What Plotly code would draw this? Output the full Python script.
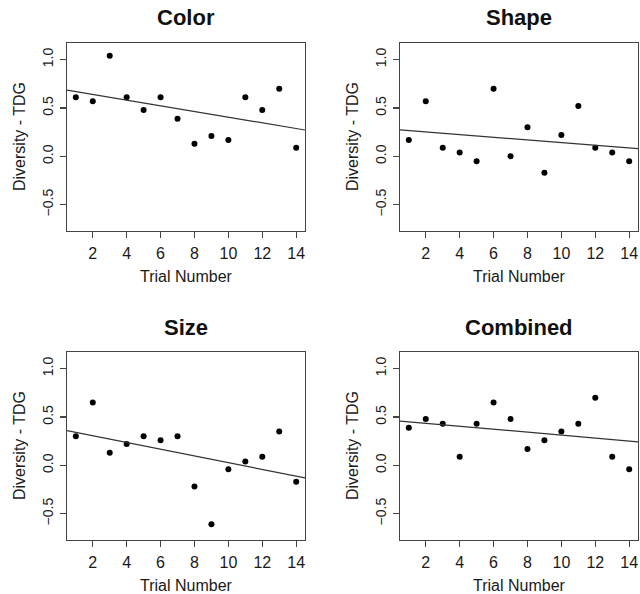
import numpy as np
import plotly.graph_objects as go

trial = list(range(1, 15))
titles = ["Color", "Shape", "Size", "Combined"]
color_vals = [0.61, 0.57, 1.04, 0.61, 0.48, 0.61, 0.39, 0.13, 0.21, 0.17, 0.61, 0.48, 0.70, 0.09]
shape_vals = [0.17, 0.57, 0.09, 0.04, -0.05, 0.70, 0.00, 0.30, -0.17, 0.22, 0.52, 0.09, 0.04, -0.05]
size_vals = [0.30, 0.65, 0.13, 0.22, 0.30, 0.26, 0.30, -0.22, -0.61, -0.04, 0.04, 0.09, 0.35, -0.17]
combined_vals = [0.39, 0.48, 0.43, 0.09, 0.43, 0.65, 0.48, 0.17, 0.26, 0.35, 0.43, 0.70, 0.09, -0.04]
series = [color_vals, shape_vals, size_vals, combined_vals]

x_ticks = [2, 4, 6, 8, 10, 12, 14]
y_ticks = [-0.5, 0.0, 0.5, 1.0]
x_range = [0.48, 14.52]
y_range = [-0.772, 1.172]

W, H = 640, 594
boxes = [  # left, right, top, bottom in px
    (67, 305, 43, 231),
    (400, 638, 43, 231),
    (67, 305, 352, 540),
    (400, 638, 352, 540),
]
font_family = "Liberation Sans, Arial, sans-serif"

fig = go.Figure()
layout = dict(
    width=W, height=H, margin=dict(l=0, r=0, t=0, b=0),
    paper_bgcolor="white", plot_bgcolor="white", showlegend=False,
    font=dict(family=font_family, color="#222"),
)
annotations = []
for i, (vals, title, box) in enumerate(zip(series, titles, boxes)):
    n = "" if i == 0 else str(i + 1)
    xa, ya = "x" + n, "y" + n
    l, r, t, b = box
    layout["xaxis" + n] = dict(
        domain=[l / W, r / W], range=x_range, tickvals=x_ticks,
        showline=True, mirror=True, linecolor="#444", linewidth=1.3,
        ticks="outside", ticklen=6, tickcolor="#444", tickwidth=1.1,
        showgrid=False, zeroline=False, anchor=ya,
        tickfont=dict(size=16, color="#1a1a1a"), ticklabelstandoff=1,
    )
    layout["yaxis" + n] = dict(
        domain=[1 - b / H, 1 - t / H], range=y_range, tickvals=y_ticks,
        tickformat=".1f", tickangle=-90,
        showline=True, mirror=True, linecolor="#444", linewidth=1.3,
        ticks="outside", ticklen=6, tickcolor="#444", tickwidth=1.1,
        showgrid=False, zeroline=False, anchor=xa,
        tickfont=dict(size=14, color="#1a1a1a"), ticklabelstandoff=1,
    )
    fig.add_trace(go.Scatter(
        x=trial, y=vals, mode="markers", xaxis=xa, yaxis=ya,
        marker=dict(color="black", size=6),
    ))
    slope, intercept = np.polyfit(trial, vals, 1)
    lx = np.array(x_range)
    fig.add_trace(go.Scatter(
        x=lx, y=slope * lx + intercept, mode="lines", xaxis=xa, yaxis=ya,
        line=dict(color="#333", width=1.2),
    ))
    cx = (l + r) / 2 / W
    annotations.append(dict(
        text="<b>" + title + "</b>", x=cx, y=1 - (t - 25) / H, xref="paper", yref="paper",
        showarrow=False, xanchor="center", yanchor="middle",
        font=dict(size=22, color="#111", family=font_family),
    ))
    annotations.append(dict(
        text="Trial Number", x=cx, y=1 - (b + 45) / H, xref="paper", yref="paper",
        showarrow=False, xanchor="center", yanchor="middle",
        font=dict(size=16, color="#1a1a1a", family=font_family),
    ))
    annotations.append(dict(
        text="Diversity - TDG", x=(l - 48) / W, y=1 - (t + b) / 2 / H, xref="paper", yref="paper",
        showarrow=False, xanchor="center", yanchor="middle", textangle=-90,
        font=dict(size=16, color="#1a1a1a", family=font_family),
    ))
layout["annotations"] = annotations
fig.update_layout(**layout)
fig.write_html("out.html", config={"displayModeBar": False, "staticPlot": True})

with open("out.html", "r", encoding="utf-8") as f:
    html = f.read()
html = html.replace("<head>", "<head><style>html,body{margin:0;padding:0;overflow:hidden}</style>", 1)
with open("out.html", "w", encoding="utf-8") as f:
    f.write(html)
